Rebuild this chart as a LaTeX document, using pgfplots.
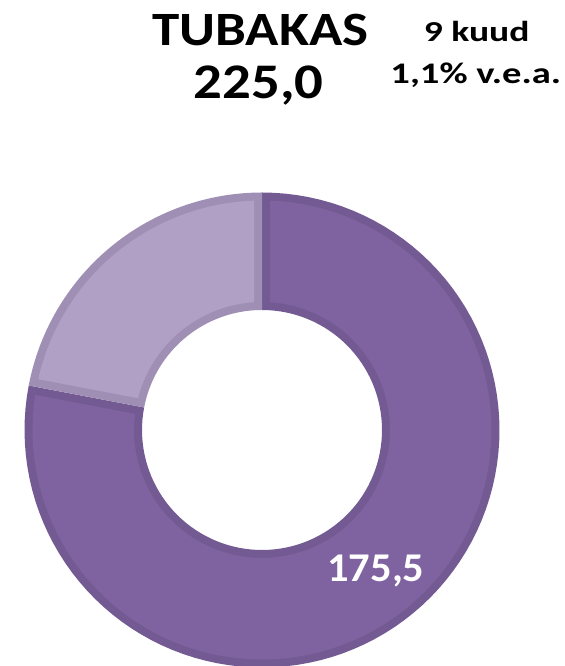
\documentclass[border=0pt]{standalone}
\usepackage{pgfplots}
\pgfplotsset{compat=1.18}
\usepackage{pgfplotstable}
\usepackage{fontspec}
\setmainfont{Carlito}
\definecolor{darkfill}{HTML}{7F63A1}
\definecolor{darkborder}{HTML}{735A93}
\definecolor{lightfill}{HTML}{B0A0C5}
\definecolor{lightborder}{HTML}{A08FB5}
\pgfplotstableread{
share value
main 175.5
other 49.5
}\shares
\begin{document}%
\begin{tikzpicture}
\pgfplotstablegetelem{0}{value}\of\shares \let\vA\pgfplotsretval
\pgfplotstablegetelem{1}{value}\of\shares \let\vB\pgfplotsretval
\pgfmathsetmacro\T{\vA+\vB}
\pgfmathsetmacro\fA{\vA/\T}
\pgfmathsetmacro\aA{450-360*\fA}
\pgfmathsetmacro\bA{450}
\pgfmathsetmacro\aB{90}
\pgfmathsetmacro\bB{\aA}
\pgfmathsetmacro\mA{(\aA+\bA)/2}
\def\cx{262}\def\cy{236}\def\Ro{237.5}\def\Ri{120}\def\bw{8}
\pgfmathsetmacro\Rin{\Ro-\bw}
\pgfmathsetmacro\Riin{\Ri+\bw}
\pgfmathsetmacro\dO{asin(\bw/\Rin)}
\pgfmathsetmacro\dI{asin(\bw/\Riin)}
\pgfmathsetmacro\aAo{\aA+\dO}\pgfmathsetmacro\bAo{\bA-\dO}
\pgfmathsetmacro\aAi{\aA+\dI}\pgfmathsetmacro\bAi{\bA-\dI}
\pgfmathsetmacro\aBo{\aB+\dO}\pgfmathsetmacro\bBo{\bB-\dO}
\pgfmathsetmacro\aBi{\aB+\dI}\pgfmathsetmacro\bBi{\bB-\dI}
\pgfmathsetmacro\Rm{(\Ro+\Ri)/2}
\pgfmathsetmacro\lx{\cx+\Rm*cos(\mA)}
\pgfmathsetmacro\ly{\cy+\Rm*sin(\mA)}
\begin{axis}[
  width=565bp, height=666bp, scale only axis, hide axis,
  xmin=0, xmax=565, ymin=0, ymax=666,
  declare function={
    rr(\t,\p,\q)=((\t)<1.2) ? (\p) : (\q);
    th(\t,\ao,\bo,\ai,\bi)=((\t)<1) ? ((\ao)+((\bo)-(\ao))*(\t)) : (((\t)<1.2) ? (\bo) : (((\t)<1.4) ? (\bi) : (((\t)<2.4) ? ((\bi)-((\bi)-(\ai))*((\t)-1.4)) : (\ai))));
  },
]
% dark slice
\addplot[fill=darkborder, draw=none, domain=0:2.6, samples=261, variable=\t]
  ({\cx+rr(\t,\Ro,\Ri)*cos(th(\t,\aA,\bA,\aA,\bA))},
   {\cy+rr(\t,\Ro,\Ri)*sin(th(\t,\aA,\bA,\aA,\bA))});
\addplot[fill=darkfill, draw=none, domain=0:2.6, samples=261, variable=\t]
  ({\cx+rr(\t,\Rin,\Riin)*cos(th(\t,\aAo,\bAo,\aAi,\bAi))},
   {\cy+rr(\t,\Rin,\Riin)*sin(th(\t,\aAo,\bAo,\aAi,\bAi))});
% light slice
\addplot[fill=lightborder, draw=none, domain=0:2.6, samples=261, variable=\t]
  ({\cx+rr(\t,\Ro,\Ri)*cos(th(\t,\aB,\bB,\aB,\bB))},
   {\cy+rr(\t,\Ro,\Ri)*sin(th(\t,\aB,\bB,\aB,\bB))});
\addplot[fill=lightfill, draw=none, domain=0:2.6, samples=261, variable=\t]
  ({\cx+rr(\t,\Rin,\Riin)*cos(th(\t,\aBo,\bBo,\aBi,\bBi))},
   {\cy+rr(\t,\Rin,\Riin)*sin(th(\t,\aBo,\bBo,\aBi,\bBi))});
\node[white, font=\bfseries\fontsize{41}{41}\selectfont, anchor=base, xscale=1.04] at (axis cs:\lx,84) {175,5};
\node[font=\bfseries\fontsize{48}{48}\selectfont, anchor=base, xscale=1.15] at (axis cs:260.3,620.3) {TUBAKAS};
\node[font=\bfseries\fontsize{50}{50}\selectfont, anchor=base, xscale=1.14] at (axis cs:258.8,567.7) {225,0};
\node[font=\bfseries\fontsize{29}{29}\selectfont, anchor=base, xscale=1.3] at (axis cs:476.7,624.3) {9 kuud};
\node[font=\bfseries\fontsize{30}{30}\selectfont, anchor=base, xscale=1.29] at (axis cs:475.8,582) {1,1\% v.e.a.};
\end{axis}
\pgfresetboundingbox
\path[use as bounding box] (current axis.south west) rectangle (current axis.north east);
\end{tikzpicture}%
\end{document}
